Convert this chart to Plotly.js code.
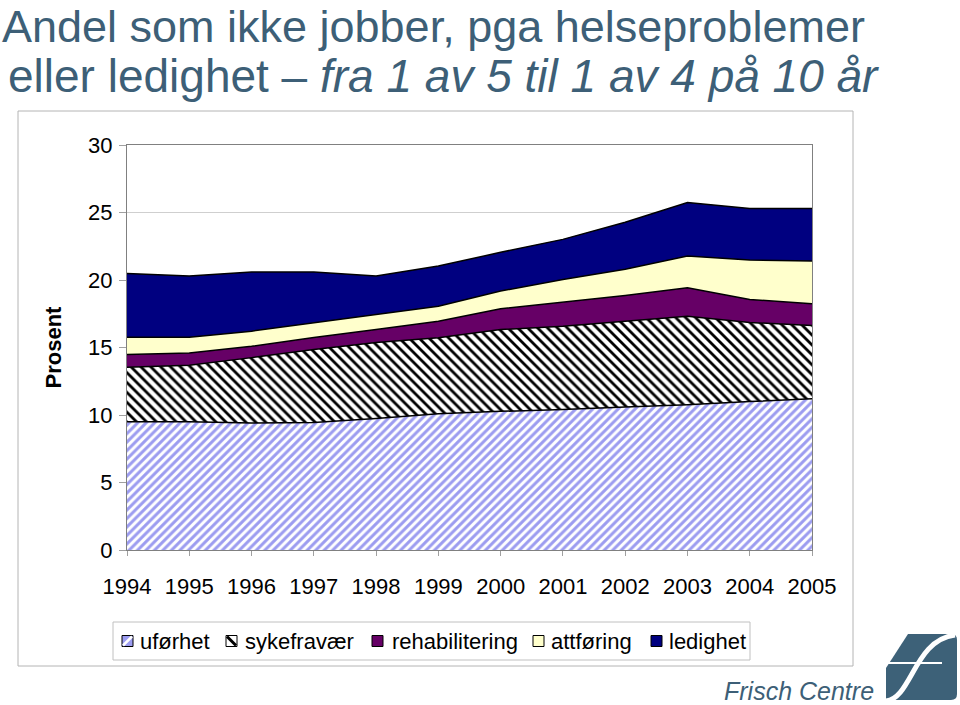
<!DOCTYPE html>
<html>
<head>
<meta charset="utf-8">
<script src="https://cdn.plot.ly/plotly-3.0.1.min.js"></script>
<style>html,body{margin:0;padding:0;background:#fff;}#chart{width:960px;height:705px;}</style>
</head>
<body>
<div id="chart"></div>
<script>
const years = ['1994','1995','1996','1997','1998','1999','2000','2001','2002','2003','2004','2005'];
const uforhet = [9.5, 9.5, 9.4, 9.45, 9.75, 10.1, 10.27, 10.4, 10.6, 10.76, 11.0, 11.2];
const sykefravaer = [4.03, 4.18, 4.85, 5.4, 5.62, 5.62, 6.06, 6.18, 6.35, 6.56, 5.85, 5.43];
const rehabilitering = [0.95, 0.92, 0.84, 0.89, 0.96, 1.23, 1.54, 1.76, 1.91, 2.11, 1.71, 1.61];
const attforing = [1.28, 1.16, 1.12, 1.11, 1.12, 1.11, 1.31, 1.7, 1.93, 2.34, 2.92, 3.16];
const ledighet = [4.73, 4.53, 4.38, 3.74, 2.84, 2.97, 2.87, 2.97, 3.49, 3.97, 3.81, 3.89];
const seriesNames = ['uførhet','sykefravær','rehabilitering','attføring','ledighet'];
const yTicks = [0,5,10,15,20,25,30];

const FONT = 'Liberation Sans, Arial, Helvetica, sans-serif';
const SLATE = '#3d5f77';
const M = {l:127, r:148, t:145, b:155};
const PW = 960 - M.l - M.r, PH = 705 - M.t - M.b;
const px = x => (x - M.l) / PW;
const py = y => (705 - M.b - y) / PH;
const pathOf = pts => pts.map(p => px(p[0]).toFixed(5) + ',' + py(p[1]).toFixed(5)).join(' ');

const line = {color:'#000000', width:1.5, shape:'linear'};
const traces = [
  {name: seriesNames[0], x: years, y: uforhet, stackgroup:'one', mode:'lines', line: line,
   fillcolor:'#ffffff', fillpattern:{shape:'/', fgcolor:'#9c9cf0', bgcolor:'#ffffff', size:6, solidity:0.5}},
  {name: seriesNames[1], x: years, y: sykefravaer, stackgroup:'one', mode:'lines', line: line,
   fillcolor:'#ffffff', fillpattern:{shape:'\\', fgcolor:'#000000', bgcolor:'#ffffff', size:7, solidity:0.4}},
  {name: seriesNames[2], x: years, y: rehabilitering, stackgroup:'one', mode:'lines', line: line, fillcolor:'#660066'},
  {name: seriesNames[3], x: years, y: attforing, stackgroup:'one', mode:'lines', line: line, fillcolor:'#ffffcc'},
  {name: seriesNames[4], x: years, y: ledighet, stackgroup:'one', mode:'lines', line: line, fillcolor:'#000080'}
];

// custom legend and frame (decoration)
const shapes = [];
const annotations = [];
shapes.push({type:'rect', xref:'paper', yref:'paper', x0:px(18), x1:px(853), y0:py(666), y1:py(111),
  line:{color:'#b4b4b4', width:1}, fillcolor:'rgba(0,0,0,0)', layer:'below'});
shapes.push({type:'rect', xref:'paper', yref:'paper', x0:px(113), x1:px(750), y0:py(660), y1:py(622),
  line:{color:'#c0c0c0', width:1}, fillcolor:'#ffffff', layer:'above'});
const swX = [122, 226, 372, 533, 651];
const txX = [138, 243, 390, 549, 667];
const swFill = ['#9c9cf0', '#ffffff', '#660066', '#ffffcc', '#000080'];
const sy0 = 635.5, sy1 = 646.5, ss = 11;
swX.forEach((x, i) => {
  shapes.push({type:'rect', xref:'paper', yref:'paper', x0:px(x), x1:px(x+ss), y0:py(sy1), y1:py(sy0),
    line:{color:'#000000', width:1}, fillcolor: swFill[i], layer:'above'});
  annotations.push({xref:'paper', yref:'paper', x:px(txX[i]), y:py(641), xanchor:'left', yanchor:'middle',
    text: seriesNames[i], showarrow:false, font:{family:FONT, size:22, color:'#000000'}});
});
// swatch hatching
shapes.push({type:'path', xref:'paper', yref:'paper', path:'M ' + pathOf([[swX[0]+1, sy1-1]]) + ' L ' + pathOf([[swX[0]+ss-1, sy0+1]]),
  line:{color:'#ffffff', width:2.5}, layer:'above'});
shapes.push({type:'path', xref:'paper', yref:'paper', path:'M ' + pathOf([[swX[1]+1, sy0+1]]) + ' L ' + pathOf([[swX[1]+ss-1, sy1-1]]),
  line:{color:'#000000', width:3}, layer:'above'});

// logo
shapes.push({type:'path', xref:'paper', yref:'paper', layer:'above', line:{width:0}, fillcolor:'#3d6178',
  path: 'M ' + pathOf([[908,634]]) + ' L ' + pathOf([[951,634]]) + ' Q ' + pathOf([[957,634],[957,640]]) +
        ' L ' + pathOf([[957,694]]) + ' Q ' + pathOf([[957,700],[951,700]]) + ' L ' + pathOf([[886,700]]) +
        ' L ' + pathOf([[886,668]]) + ' Z'});
shapes.push({type:'path', xref:'paper', yref:'paper', layer:'above', line:{color:'#ffffff', width:5},
  path: 'M ' + pathOf([[886,701]]) + ' C ' + pathOf([[912,698],[914,640],[955,635]])});
shapes.push({type:'path', xref:'paper', yref:'paper', layer:'above', line:{color:'#ffffff', width:2},
  path: 'M ' + pathOf([[888,663]]) + ' L ' + pathOf([[942,663]])});

annotations.push({xref:'paper', yref:'paper', x:px(6), y:py(76), xanchor:'left', yanchor:'middle', showarrow:false,
  text:'eller ledighet – <i>fra 1 av 5 til 1 av 4 på 10 år</i>', font:{family:FONT, size:46, color:SLATE}});
annotations.push({xref:'paper', yref:'paper', x:px(722), y:py(691), xanchor:'left', yanchor:'middle', showarrow:false,
  text:'<i>Frisch Centre</i>', font:{family:FONT, size:25, color:SLATE}});

const layout = {
  width:960, height:705,
  margin: M,
  paper_bgcolor:'#ffffff', plot_bgcolor:'#ffffff',
  showlegend:false,
  font:{family:FONT, size:22, color:'#000000'},
  title:{text:'Andel som ikke jobber, pga helseproblemer', font:{family:FONT, size:45, color:SLATE},
    x:0.002, xref:'container', xanchor:'left', y:1 - 26/705, yref:'container', yanchor:'middle', pad:{t:0,l:0,r:0,b:0}},
  xaxis:{type:'category', range:[0, 11], showgrid:false, zeroline:false, showline:true, mirror:true,
    linecolor:'#808080', linewidth:1, ticks:'outside', ticklen:5, tickcolor:'#a0a0a0',
    tickfont:{family:FONT, size:22, color:'#000000'}, ticklabelstandoff:12, fixedrange:true},
  yaxis:{range:[0,30], tickvals:yTicks, ticktext:yTicks.map(String), showgrid:true, gridcolor:'#cfcfcf', gridwidth:1,
    zeroline:false, showline:true, mirror:true, linecolor:'#808080', linewidth:1,
    ticks:'outside', ticklen:7, tickcolor:'#a0a0a0', ticklabelstandoff:2,
    tickfont:{family:FONT, size:22, color:'#000000'},
    title:{text:'<b>Prosent</b>', font:{family:FONT, size:22, color:'#000000'}, standoff:20}, fixedrange:true},
  shapes: shapes,
  annotations: annotations
};

Plotly.newPlot('chart', traces, layout, {displayModeBar:false, staticPlot:true});
</script>
</body>
</html>
